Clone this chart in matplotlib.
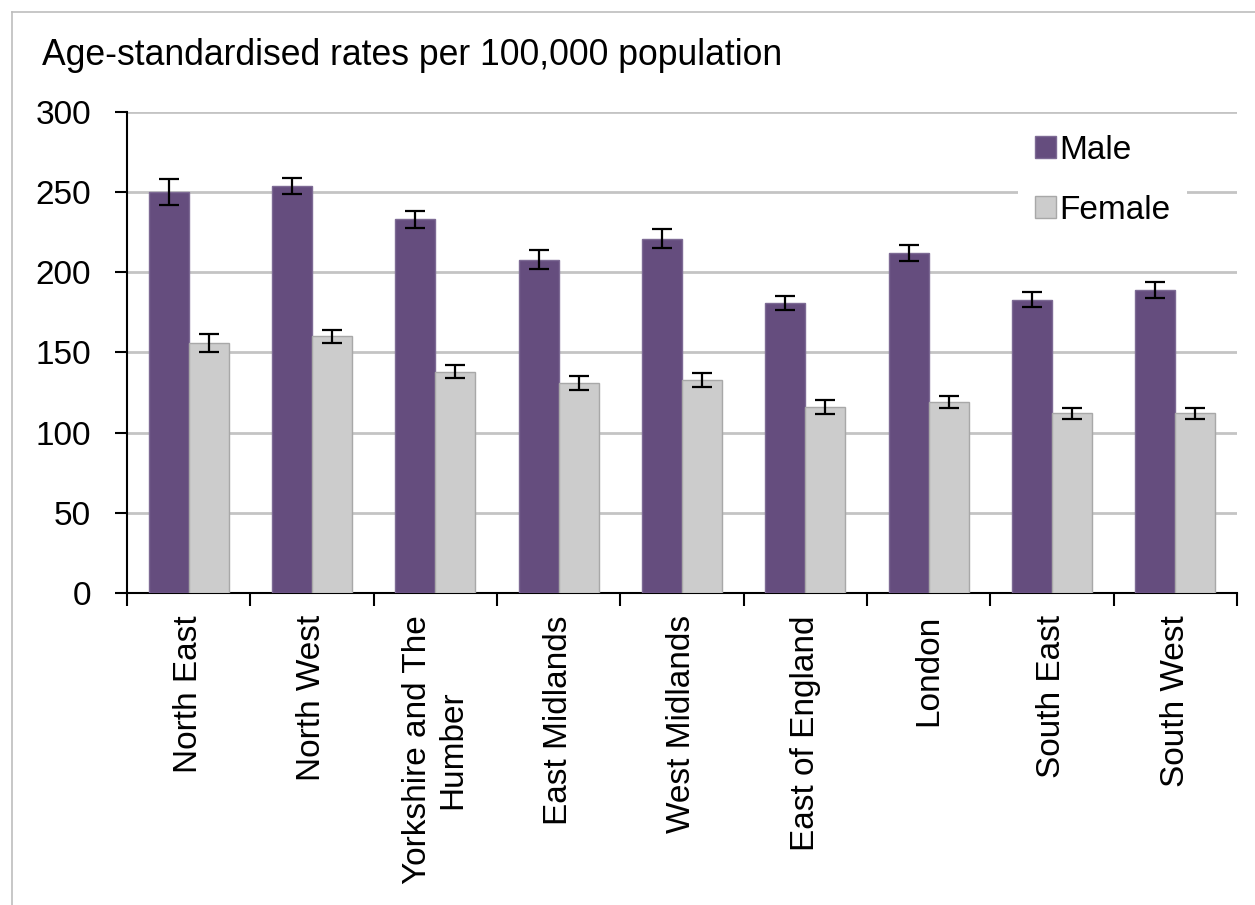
import numpy as np
import matplotlib
matplotlib.use("Agg")
import matplotlib.pyplot as plt
from matplotlib.lines import Line2D

plt.rcParams['font.family'] = ['Liberation Sans', 'DejaVu Sans']

regions = ["North East", "North West", "Yorkshire and The\nHumber", "East Midlands",
           "West Midlands", "East of England", "London", "South East", "South West"]
male = [250, 254, 233, 208, 221, 181, 212, 183, 189]
male_err = [8, 5, 5.5, 6, 6, 4.2, 5, 4.5, 5]
female = [156, 160, 138, 131, 133, 116, 119, 112, 112]
female_err = [5.8, 4, 4.2, 4.3, 4.3, 4.3, 3.8, 3.3, 3.3]
yticks = [0, 50, 100, 150, 200, 250, 300]

W, H = 1255, 905
fig = plt.figure(figsize=(W / 100, H / 100), dpi=100)
ax = fig.add_axes([127 / W, 1 - 593 / H, 1110 / W, 481 / H])

x = np.arange(len(regions))
w = 0.324
ekw = dict(ecolor="black", elinewidth=1.6, capsize=7, capthick=1.6)
ax.bar(x - w / 2, male, w, color="#654d7e", edgecolor="#7d6a94", linewidth=1,
       yerr=male_err, error_kw=ekw, label="Male", zorder=3)
ax.bar(x + w / 2, female, w, color="#cccccc", edgecolor="#a8a8a8", linewidth=1,
       yerr=female_err, error_kw=ekw, label="Female", zorder=3)

ax.set_ylim(0, 300)
ax.set_xlim(-0.5, len(regions) - 0.5)
ax.set_yticks(yticks)
ax.yaxis.grid(True, color="#c4c4c4", linewidth=2)
ax.set_axisbelow(True)
for s in ("top", "right"):
    ax.spines[s].set_visible(False)
for s in ("left", "bottom"):
    ax.spines[s].set_linewidth(1.5)
    ax.spines[s].set_color("black")

ax.tick_params(axis="y", direction="out", length=9, width=1.5, pad=17, labelsize=24)

# ticks between categories, labels at category centres
ax.set_xticks(np.arange(len(regions) + 1) - 0.5)
ax.set_xticklabels([])
ax.tick_params(axis="x", which="major", direction="out", length=9, width=1.5)
ax.set_xticks(x, minor=True)
ax.set_xticklabels(regions, minor=True, rotation=90, fontsize=24,
                   ha="center", va="top", multialignment="center")
ax.tick_params(axis="x", which="minor", length=0, pad=16)

leg = ax.legend(loc="upper left", bbox_to_anchor=(1018 / W, 1 - 118 / H),
                bbox_transform=fig.transFigure, fontsize=24, frameon=True,
                facecolor="white", edgecolor="none", framealpha=1, fancybox=False,
                borderpad=0.5, labelspacing=0.88, handlelength=0.65,
                handleheight=0.65, handletextpad=0.1, borderaxespad=0)
leg.set_zorder(5)

fig.text(42 / W, 1 - 65 / H, "Age-standardised rates per 100,000 population",
         fontsize=25.6, va="baseline", ha="left")

# chart area border
fig.add_artist(Line2D([12 / W, 12 / W], [0, 1 - 12 / H], color="#bdbdbd", linewidth=1.2))
fig.add_artist(Line2D([12 / W, 1], [1 - 12 / H, 1 - 12 / H], color="#bdbdbd", linewidth=1.2))

fig.savefig("out.png", dpi=100)
